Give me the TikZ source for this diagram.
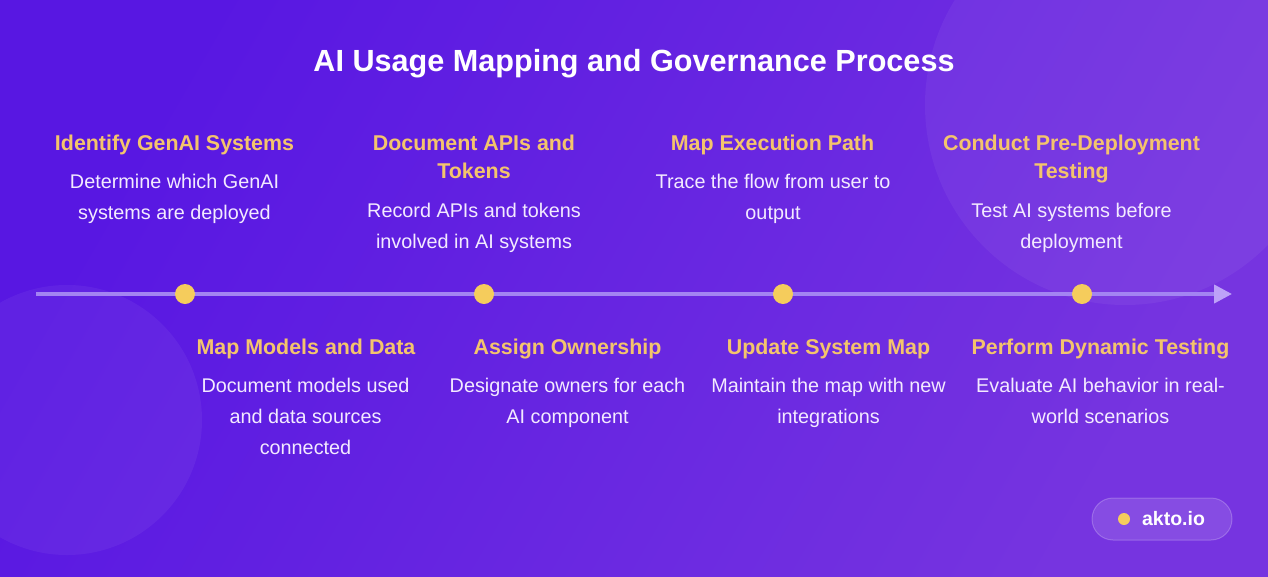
\documentclass[tikz,border=0pt]{standalone}
\usepackage{fontspec}
\setmainfont{Liberation Sans}
\usetikzlibrary{arrows.meta}
\definecolor{bgA}{HTML}{5817E2}
\definecolor{bgB}{HTML}{7634E0}
\definecolor{headc}{HTML}{F4C46C}
\definecolor{bodyc}{HTML}{F3EAFF}
\definecolor{dotc}{HTML}{F5CC5C}
\definecolor{linec}{HTML}{A384F2}
\definecolor{tipc}{HTML}{BDA2F8}
\tikzset{
  titletext/.style={text=white, font=\fontsize{30.6}{36}\selectfont\bfseries, inner sep=0pt, anchor=base},
  headtext/.style={text=headc, font=\fontsize{21.4}{28}\selectfont\bfseries, align=center, inner sep=0pt, anchor=base},
  bodytext/.style={text=bodyc, font=\fontsize{19.8}{30.6}\selectfont, align=center, inner sep=0pt, anchor=base},
  dotnode/.style={circle, fill=dotc, minimum size=20pt, inner sep=0pt},
  timeline/.style={draw=linec, line width=4pt, -{Triangle[length=18pt,width=18pt,color=tipc]}},
  badgebox/.style={rectangle, rounded corners=21pt, minimum width=140pt, minimum height=42pt, fill=white, fill opacity=0.12, draw=white, draw opacity=0.22, line width=1pt},
  badgetext/.style={text=white, font=\fontsize{19.5}{24}\selectfont\bfseries, inner sep=0pt},
  glow/.style={fill=white, opacity=0.05}
}
\begin{document}
\begin{tikzpicture}[x=1pt,y=-1pt]
\useasboundingbox (0,0) rectangle (1268,576);
\shade[left color=bgA, right color=bgB, shading angle=60] (0,0) rectangle (1268,576);
\fill[glow] (1125,105) circle (200);
\fill[glow] (67,420) circle (135);

\node[titletext] (title) at (634,71) {AI Usage Mapping and Governance Process};

% timeline
\coordinate (ls) at (36,294);
\coordinate (le) at (1232,294);
\draw[timeline] (ls) -- (le);
\node[dotnode] (p1) at (185,294) {};
\node[dotnode] (p2) at (484,294) {};
\node[dotnode] (p3) at (783,294) {};
\node[dotnode] (p4) at (1082,294) {};

% upper items (anchor = baseline of the last line)
\node[headtext] (h1) at (174.5,150) {Identify GenAI Systems};
\node[bodytext] (b1) at (174.5,219) {Determine which GenAI\\systems are deployed};
\node[headtext] (h2) at (474,178) {Document APIs and\\Tokens};
\node[bodytext] (b2) at (474,248) {Record APIs and tokens\\involved in AI systems};
\node[headtext] (h3) at (772.5,150) {Map Execution Path};
\node[bodytext] (b3) at (773,219) {Trace the flow from user to\\output};
\node[headtext] (h4) at (1071.5,178) {Conduct Pre-Deployment\\Testing};
\node[bodytext] (b4) at (1071.5,248) {Test AI systems before\\deployment};

% lower items
\node[headtext] (h5) at (306,354) {Map Models and Data};
\node[bodytext] (b5) at (305.5,454) {Document models used\\and data sources\\connected};
\node[headtext] (h6) at (567.5,354) {Assign Ownership};
\node[bodytext] (b6) at (567.5,423) {Designate owners for each\\AI component};
\node[headtext] (h7) at (828.5,354) {Update System Map};
\node[bodytext] (b7) at (828.5,423) {Maintain the map with new\\integrations};
\node[headtext] (h8) at (1100.5,354) {Perform Dynamic Testing};
\node[bodytext] (b8) at (1100.5,423) {Evaluate AI behavior in real-\\world scenarios};

% badge
\node[badgebox] (badge) at (1162,519) {};
\node[dotnode, minimum size=12pt] (bdot) at (1124,519) {};
\node[badgetext] (akto) at (1173.5,519) {akto.io};
\end{tikzpicture}
\end{document}
